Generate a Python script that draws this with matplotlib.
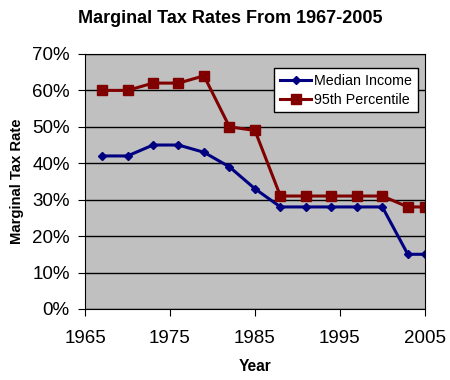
import matplotlib.pyplot as plt
from matplotlib.ticker import MultipleLocator, PercentFormatter

plt.rcParams['font.family'] = ['Liberation Sans', 'DejaVu Sans']

years = [1967, 1970, 1973, 1976, 1979, 1982, 1985, 1988, 1991, 1994, 1997, 2000, 2003, 2005]
median_income = [42, 42, 45, 45, 43, 39, 33, 28, 28, 28, 28, 28, 15, 15]
pct_95 = [60, 60, 62, 62, 64, 50, 49, 31, 31, 31, 31, 31, 28, 28]
year_ticks = [1965, 1975, 1985, 1995, 2005]

fig = plt.figure(figsize=(4.5, 3.8), dpi=100)
ax = fig.add_axes([0.189, 0.187, 0.755, 0.671])
ax.set_facecolor('#C0C0C0')

ax.plot(years, median_income, color='#000080', lw=2.2, marker='D', ms=4,
        label='Median Income')
ax.plot(years, pct_95, color='#800000', lw=2.2, marker='s', ms=7,
        label='95th Percentile')

ax.set_xlim(1965, 2005)
ax.set_ylim(0, 70)
ax.set_xticks(year_ticks)
ax.yaxis.set_major_locator(MultipleLocator(10))
ax.yaxis.set_major_formatter(PercentFormatter(decimals=0))
ax.grid(axis='y', color='black', lw=1)
ax.set_axisbelow(True)
for s in ax.spines.values():
    s.set_color('black')
ax.tick_params(direction='out', length=5, color='black', labelsize=13.5)
ax.tick_params(axis='y', pad=6)
ax.tick_params(axis='x', pad=10)

fig.text(0.511, 0.952, 'Marginal Tax Rates From 1967-2005', fontsize=13,
         fontweight='bold', ha='center', va='center')
ax.set_xlabel('Year', fontsize=11.2, fontweight='bold', labelpad=9)
ax.set_ylabel('Marginal Tax Rate', fontsize=10.7, fontweight='bold', labelpad=6)

leg = ax.legend(loc='upper right', bbox_to_anchor=(0.98, 0.945), fontsize=10.3,
                frameon=True, fancybox=False, framealpha=1, edgecolor='black',
                borderpad=0.4, handlelength=2.2, handletextpad=0.2, labelspacing=0.35,
                borderaxespad=0)
leg.get_frame().set_linewidth(1)

fig.savefig('out.png', dpi=100)
